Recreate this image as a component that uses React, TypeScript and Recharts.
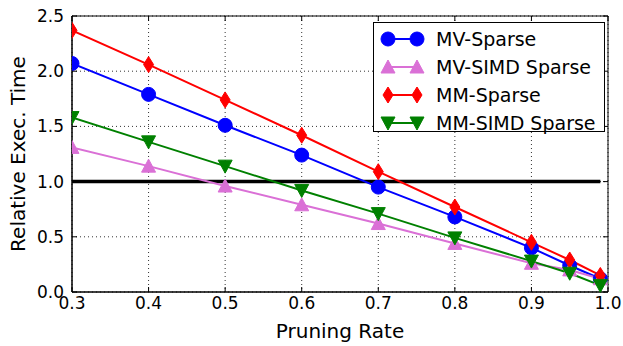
import React from "react";
import { LineChart, Line, CartesianGrid, XAxis, YAxis, ReferenceArea } from "recharts";

const pruningRates = [0.3, 0.4, 0.5, 0.6, 0.7, 0.8, 0.9, 0.95, 0.99];
const mvSparse = [2.07, 1.79, 1.51, 1.24, 0.95, 0.68, 0.4, 0.24, 0.12];
const mvSimdSparse = [1.31, 1.14, 0.96, 0.79, 0.62, 0.44, 0.26, 0.2, 0.12];
const mmSparse = [2.37, 2.06, 1.74, 1.42, 1.09, 0.77, 0.45, 0.29, 0.15];
const mmSimdSparse = [1.58, 1.36, 1.14, 0.92, 0.71, 0.49, 0.28, 0.17, 0.06];
const baseline = [1, 1, 1, 1, 1, 1, 1, 1, 1];

const xTicks = [0.3, 0.4, 0.5, 0.6, 0.7, 0.8, 0.9, 1.0];
const yTicks = [0, 0.5, 1.0, 1.5, 2.0, 2.5];

const W = 623;
const H = 346;
const M = { top: 16, right: 15, left: 0, bottom: 0 };
const Y_W = 72;
const X_H = 54;
const FONT = "DejaVu Sans";

const data = pruningRates.map((rate, i) => ({
  rate,
  mvSparse: mvSparse[i],
  mvSimdSparse: mvSimdSparse[i],
  mmSparse: mmSparse[i],
  mmSimdSparse: mmSimdSparse[i],
  baseline: baseline[i],
}));

type Shape = "circle" | "up" | "diamond" | "down";

function Marker({ cx, cy, shape, color }: { cx: number; cy: number; shape: Shape; color: string }) {
  if (shape === "circle") return <circle cx={cx} cy={cy} r={7} fill={color} stroke={color} />;
  if (shape === "up")
    return <polygon points={`${cx},${cy - 7} ${cx - 7},${cy + 6} ${cx + 7},${cy + 6}`} fill={color} stroke={color} />;
  if (shape === "down")
    return <polygon points={`${cx},${cy + 7} ${cx - 7},${cy - 6} ${cx + 7},${cy - 6}`} fill={color} stroke={color} />;
  return <polygon points={`${cx},${cy - 8} ${cx + 5},${cy} ${cx},${cy + 8} ${cx - 5},${cy}`} fill={color} stroke={color} />;
}

const series = [
  { key: "mvSparse", name: "MV-Sparse", color: "#0000ff", shape: "circle" as Shape },
  { key: "mvSimdSparse", name: "MV-SIMD Sparse", color: "#da70d6", shape: "up" as Shape },
  { key: "mmSparse", name: "MM-Sparse", color: "#ff0000", shape: "diamond" as Shape },
  { key: "mmSimdSparse", name: "MM-SIMD Sparse", color: "#008000", shape: "down" as Shape },
];

const X_MARGIN = 5;
const Y_MARGIN = 8;

const XTick = (props: any) => {
  const { x, y, payload } = props;
  const axisY = y - X_MARGIN;
  return (
    <g>
      <line x1={x} x2={x} y1={axisY} y2={axisY - 5} stroke="#000" />
      <line x1={x} x2={x} y1={M.top} y2={M.top + 5} stroke="#000" />
      <text x={x} y={y} dy="0.71em" textAnchor="middle" fontSize={17} fill="#000" fontFamily={FONT}>
        {Number(payload.value).toFixed(1)}
      </text>
    </g>
  );
};

const YTick = (props: any) => {
  const { x, y, payload } = props;
  const axisX = x + Y_MARGIN;
  const rightX = W - M.right;
  return (
    <g>
      <line x1={axisX} x2={axisX + 5} y1={y} y2={y} stroke="#000" />
      <line x1={rightX} x2={rightX - 5} y1={y} y2={y} stroke="#000" />
      <text x={x} y={y} dy="0.355em" textAnchor="end" fontSize={17} fill="#000" fontFamily={FONT}>
        {Number(payload.value).toFixed(1)}
      </text>
    </g>
  );
};

const LegendBox = () => (
  <div
    style={{
      position: "absolute",
      left: 373,
      top: 22,
      border: "1px solid #000",
      background: "#fff",
      width: 230,
      height: 106,
      paddingTop: 2,
    }}
  >
    {series.map((s) => (
      <div key={s.key} style={{ display: "flex", alignItems: "center", height: 28 }}>
        <svg width={52} height={28} style={{ marginLeft: 4 }}>
          <line x1={10} x2={39} y1={14} y2={14} stroke={s.color} strokeWidth={2} />
          <Marker cx={10} cy={14} shape={s.shape} color={s.color} />
          <Marker cx={39} cy={14} shape={s.shape} color={s.color} />
        </svg>
        <span style={{ fontSize: 19, fontFamily: FONT, color: "#000", marginLeft: 6, lineHeight: "28px" }}>
          {s.name}
        </span>
      </div>
    ))}
  </div>
);

export default function App() {
  return (
    <div style={{ position: "absolute", left: 0, top: 0, width: W, height: H, background: "#fff", fontFamily: FONT }}>
      <LineChart width={W} height={H} data={data} margin={M}>
        <CartesianGrid stroke="#333" strokeDasharray="1 3" strokeWidth={1} />
        <XAxis
          dataKey="rate"
          type="number"
          domain={[0.3, 1.0]}
          ticks={xTicks}
          allowDataOverflow
          height={X_H}
          tickSize={0}
          tickMargin={X_MARGIN}
          tickLine={false}
          axisLine={{ stroke: "#000" }}
          tick={<XTick />}
          interval={0}
          label={{ value: "Pruning Rate", position: "insideBottom", offset: 8, fontSize: 20, fill: "#000", fontFamily: FONT }}
        />
        <YAxis
          type="number"
          domain={[0, 2.5]}
          ticks={yTicks}
          width={Y_W}
          tickSize={0}
          tickMargin={Y_MARGIN}
          tickLine={false}
          axisLine={{ stroke: "#000" }}
          tick={<YTick />}
          interval={0}
          label={{
            value: "Relative Exec. Time",
            angle: -90,
            position: "insideLeft",
            offset: 18,
            style: { textAnchor: "middle" },
            fontSize: 20,
            fill: "#000",
            fontFamily: FONT,
          }}
        />
        <ReferenceArea x1={0.3} x2={1.0} y1={0} y2={2.5} fill="none" stroke="#000" strokeWidth={1} />
        <Line
          dataKey="baseline"
          stroke="#000"
          strokeWidth={3.5}
          dot={false}
          isAnimationActive={false}
          legendType="none"
        />
        {series.map((s) => (
          <Line
            key={s.key}
            dataKey={s.key}
            name={s.name}
            stroke={s.color}
            strokeWidth={2}
            isAnimationActive={false}
            activeDot={false}
            dot={(p: any) => (
              <Marker key={`${s.key}-${p.index}`} cx={p.cx} cy={p.cy} shape={s.shape} color={s.color} />
            )}
          />
        ))}
      </LineChart>
      <LegendBox />
    </div>
  );
}
